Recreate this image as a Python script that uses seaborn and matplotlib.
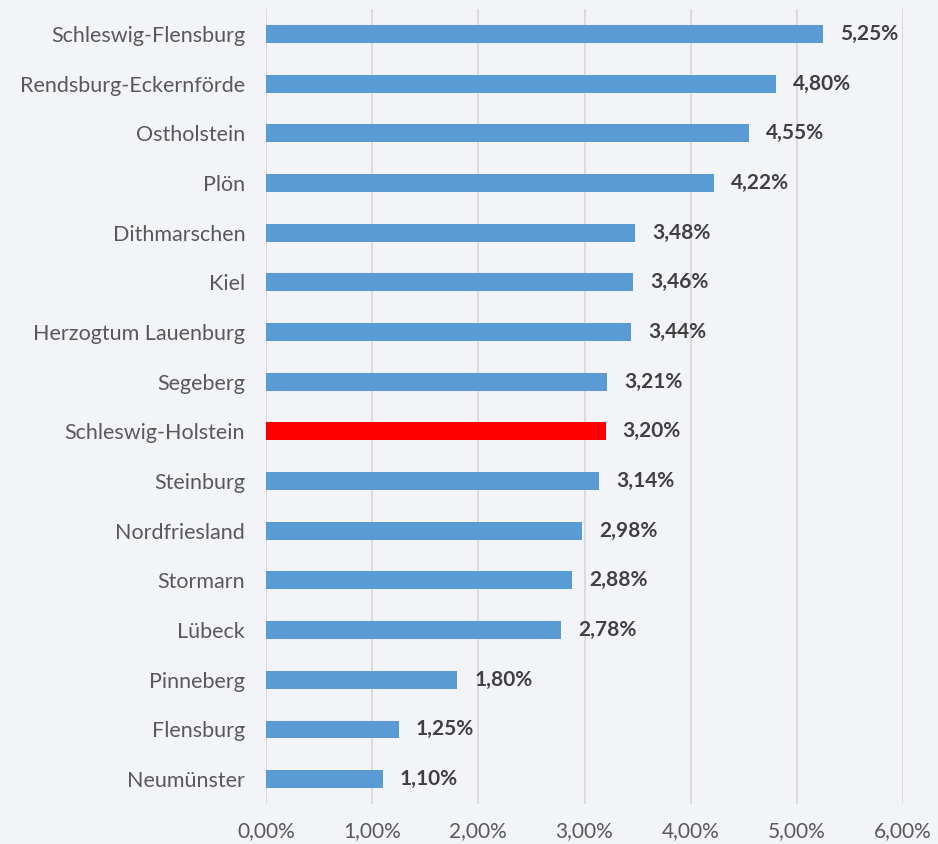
import matplotlib
matplotlib.use("Agg")
import matplotlib.pyplot as plt
import seaborn as sns
import pandas as pd

regions = ["Schleswig-Flensburg", "Rendsburg-Eckernförde", "Ostholstein", "Plön",
           "Dithmarschen", "Kiel", "Herzogtum Lauenburg", "Segeberg",
           "Schleswig-Holstein", "Steinburg", "Nordfriesland", "Stormarn",
           "Lübeck", "Pinneberg", "Flensburg", "Neumünster"]
values = [5.25, 4.80, 4.55, 4.22, 3.48, 3.46, 3.44, 3.21, 3.20, 3.14,
          2.98, 2.88, 2.78, 1.80, 1.25, 1.10]
x_ticks = [0, 1, 2, 3, 4, 5, 6]

df = pd.DataFrame({"region": regions, "value": values})
highlight = "Schleswig-Holstein"
palette = {r: ("#FF0000" if r == highlight else "#5B9BD5") for r in regions}

sns.set_theme(style="white")
plt.rcParams["font.family"] = ["Lato", "DejaVu Sans"]

bg = "#F2F4F8"
fig = plt.figure(figsize=(9.38, 8.44), dpi=100, facecolor=bg)
ax = fig.add_axes([0.2836, 0.0474, 0.9627 - 0.2836, 0.9419])
ax.set_facecolor(bg)

sns.barplot(data=df, x="value", y="region", hue="region", palette=palette,
            order=regions, width=0.36, legend=False, ax=ax, saturation=1,
            linewidth=0)

ax.set_xlim(0, 6)
ax.set_xticks(x_ticks)
ax.set_xticklabels([f"{t:.2f}%".replace(".", ",") for t in x_ticks])
ax.set_xlabel("")
ax.set_ylabel("")
ax.xaxis.grid(True, color="#D9D9D9", linewidth=1.3)
ax.set_axisbelow(True)
for s in ax.spines.values():
    s.set_visible(False)
ax.tick_params(axis="x", length=0, pad=12, labelsize=15, labelcolor="#595959")
ax.tick_params(axis="y", length=0, pad=15, labelsize=15.5, labelcolor="#595959")

for i, v in enumerate(values):
    ax.text(v + 0.16, i, f"{v:.2f}%".replace(".", ","), va="center", ha="left",
            fontsize=15, fontweight="bold", color="#404040")

fig.savefig("out.png", dpi=100, facecolor=bg)
